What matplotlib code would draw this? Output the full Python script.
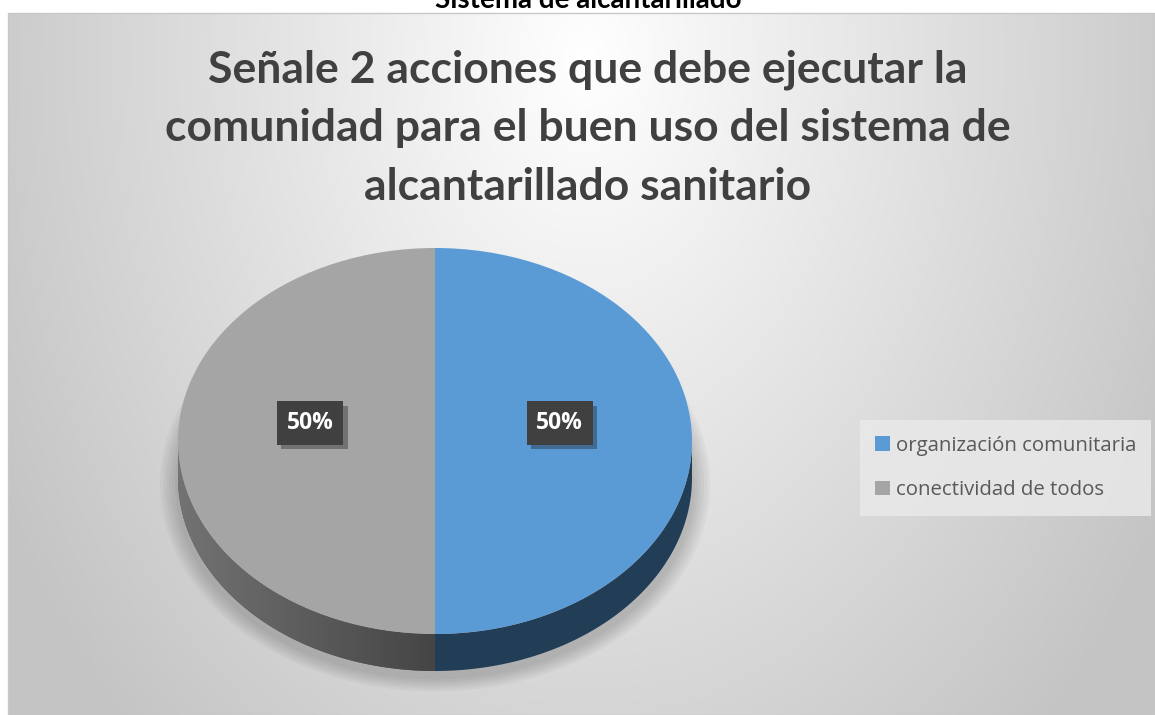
import numpy as np
import matplotlib
matplotlib.use("Agg")
import matplotlib.pyplot as plt
from matplotlib.patches import Rectangle, Polygon, Ellipse, Patch
import matplotlib.patheffects as pe

categories = ["organización comunitaria", "conectividad de todos"]
values = [50, 50]
labels = ["50%", "50%"]
top_colors = ["#5B9BD5", "#A5A5A5"]
side_colors = ["#223D56", "#555555"]
title = "Señale 2 acciones que debe ejecutar la\ncomunidad para el buen uso del sistema de\nalcantarillado sanitario"
sup_text = "Sistema de alcantarillado"

W, H = 1155, 715
fig = plt.figure(figsize=(W / 100, H / 100), dpi=100)
fig.patch.set_facecolor("white")

bg = fig.add_axes([0, 0, 1, 1])
bg.set_xlim(0, W)
bg.set_ylim(H, 0)
bg.axis("off")

# chart area gradient
x0, y0 = 8, 13
yy, xx = np.mgrid[y0:H, x0:W]
cx, cy = 585, 60
r = np.sqrt(((xx - cx) / 577.0) ** 2 + ((yy - cy) / 800.0) ** 2)
val = 1.0 - 0.2 * np.clip(r, 0, 1.15)
img = np.dstack([val, val, val])
bg.imshow(img, extent=[x0, W, H, y0], aspect="auto", zorder=0, interpolation="bilinear")
bg.add_patch(Rectangle((x0, y0), W - x0, H - y0, fill=False, edgecolor="#c8c8c8", lw=1, zorder=1))

bg.text(588, 0, sup_text, ha="center", va="center", fontsize=20, fontweight="bold",
        color="black", family="Lato", zorder=2)
bg.text(588, 128, title, ha="center", va="center", fontsize=32, fontweight="bold",
        color="#404040", family="Lato", linespacing=1.56, zorder=2)

# pie geometry (pixels)
pcx, pcy = 435, 441
rx, ry = 257, 193
depth = 37

# soft shadow around pie
for i in range(6):
    g = 6 * (6 - i)
    bg.add_patch(Ellipse((pcx, pcy + depth + 6), 2 * rx + g, 2 * ry + g * 0.8,
                         facecolor="#000000", alpha=0.03, edgecolor="none", zorder=1.5))

d = depth / ry
ax = fig.add_axes([(pcx - rx) / W, (H - (pcy + ry + depth)) / H, 2 * rx / W, (2 * ry + depth) / H])
wedges, _ = ax.pie(values, colors=top_colors, startangle=90, counterclock=False,
                   wedgeprops=dict(linewidth=0, zorder=3), radius=1)
ax.set_aspect("auto")
ax.set_xlim(-1, 1)
ax.set_ylim(-1 - d, 1)
ax.axis("off")

# sides of the 3-D pie
for w, sc in zip(wedges, side_colors):
    lo, hi = min(w.theta1, w.theta2), max(w.theta1, w.theta2)
    for off in (-360, 0, 360):
        a, b = max(lo + off, 180), min(hi + off, 360)
        if b <= a:
            continue
        th = np.radians(np.linspace(a, b, 160))
        top = np.column_stack([np.cos(th), np.sin(th)])
        bot = np.column_stack([np.cos(th[::-1]), np.sin(th[::-1]) - d])
        patch = Polygon(np.vstack([top, bot]), closed=True, facecolor=sc, edgecolor="none", zorder=2)
        ax.add_patch(patch)
        if sc == "#555555":
            gx = np.linspace(0, 1, 200)
            gvals = 0.27 + 0.18 * (1 - gx)
            gimg = np.tile(gvals, (10, 1))
            im = ax.imshow(np.dstack([gimg, gimg, gimg]), extent=[-1, 0, -1 - d, 0],
                           aspect="auto", zorder=2.5, interpolation="bilinear")
            im.set_clip_path(patch)

# data labels
for w, lab in zip(wedges, labels):
    ang = np.radians((w.theta1 + w.theta2) / 2)
    lx, ly = 0.485 * np.cos(ang), 0.093
    t = ax.text(lx, ly, lab, ha="center", va="center", fontsize=16.5, fontweight="bold",
                color="white", family="Open Sans", zorder=5,
                bbox=dict(boxstyle="square,pad=0.42", facecolor="#404040", edgecolor="none"))
    t.get_bbox_patch().set_path_effects([pe.SimplePatchShadow(offset=(3, -3), alpha=0.35),
                                         pe.Normal()])

# legend
handles = [Patch(facecolor=c, edgecolor="none") for c in top_colors]
leg = fig.legend(handles, categories, loc="center left", bbox_to_anchor=(860 / W, 1 - 468 / H),
                 frameon=True, fancybox=False, handlelength=0.7, handleheight=0.7,
                 handletextpad=0.3, labelspacing=1.2, borderpad=0.75, borderaxespad=0,
                 labelcolor="#595959", prop=dict(family="Open Sans", size=14.7))
leg.get_frame().set_facecolor("#e9e9e9")
leg.get_frame().set_edgecolor("none")
leg.get_frame().set_alpha(0.85)

fig.savefig("out.png", dpi=100)
